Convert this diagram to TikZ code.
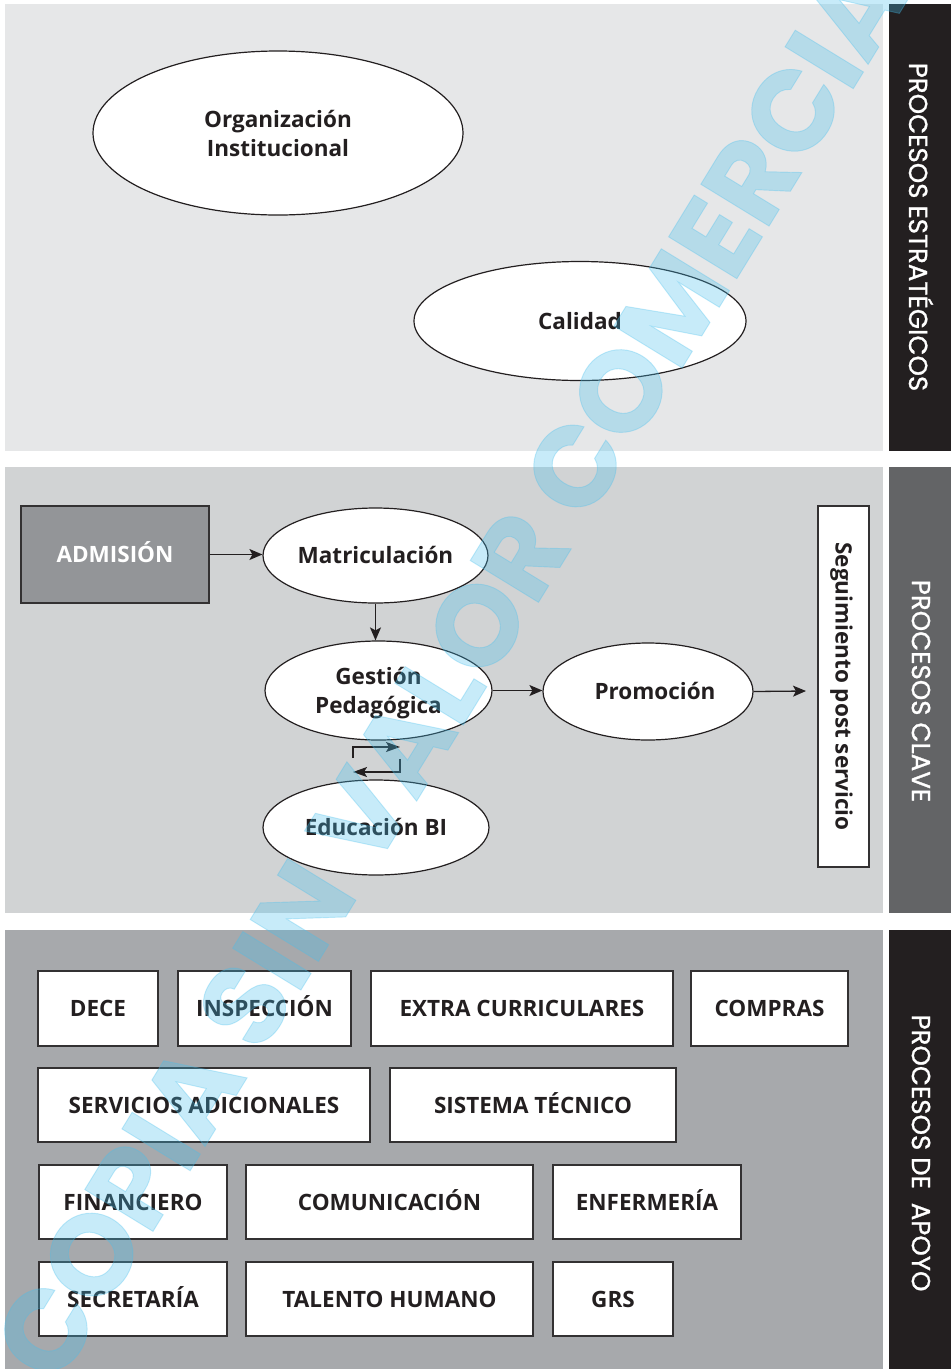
\documentclass[tikz,border=0pt]{standalone}
\usepackage{fontspec}
\setmainfont{Open Sans}
\newfontfamily\barfont{Poppins}[FakeBold=1]
\newfontfamily\markfont{Poppins}[FakeBold=0.8]
\usetikzlibrary{shapes.geometric,arrows.meta}

\definecolor{inkblack}{HTML}{231F20}
\definecolor{stratbg}{HTML}{E6E7E8}
\definecolor{keybg}{HTML}{D1D3D4}
\definecolor{supbg}{HTML}{A7A9AC}
\definecolor{keybar}{HTML}{636466}
\definecolor{admfill}{HTML}{939598}
\definecolor{boxline}{HTML}{333132}
\definecolor{wmcyan}{RGB}{70,192,238}

\begin{document}
\begin{tikzpicture}[x=1pt,y=-1pt,
  txt/.style={font=\fontsize{22.5}{29}\selectfont\bfseries, text=inkblack, align=center},
  oneline/.style={text height=16pt, text depth=0pt},
  oval/.style={txt, ellipse, draw=inkblack, line width=1.2pt, fill=white, inner sep=0pt},
  procbox/.style={txt, oneline, rectangle, draw=boxline, line width=1.4pt, fill=white, inner sep=0pt},
  barlabel/.style={font=\fontsize{26}{30}\barfont, text=white, rotate=-90},
  arr/.style={draw=inkblack, line width=1.3pt, -{Stealth[length=13pt,width=11pt,inset=3pt]}},
  loop/.style={draw=inkblack, line width=1.3pt, -{Stealth[length=14pt,width=10pt,inset=3pt]}},
  watermark/.style={font=\fontsize{114}{114}\markfont\bfseries, text=wmcyan, text opacity=0.3, inner sep=0pt}
]
\useasboundingbox (0,0) rectangle (951,1369);
\fill[white] (0,0) rectangle (951,1369);

% three bands with their side labels
\fill[stratbg] (5,4) rectangle (883,451);
\fill[inkblack] (889,4) rectangle (951,451);
\fill[keybg] (5,467) rectangle (883,913);
\fill[keybar] (889,467) rectangle (951,913);
\fill[supbg] (5,930) rectangle (883,1369);
\fill[inkblack] (889,930) rectangle (951,1369);

\node[barlabel] (lblstrat) at (921,227) {PROCESOS ESTRATÉGICOS};
\node[barlabel] (lblkey) at (921,691) {PROCESOS CLAVE};
\node[barlabel] (lblsup) at (921,1153) {PROCESOS DE\ \ APOYO};

% strategic processes
\node[oval, minimum width=370pt, minimum height=164pt] (org) at (278,133) {Organización\\Institucional};
\node[oval, oneline, minimum width=332pt, minimum height=119pt] (cal) at (580,321) {Calidad};

% key processes
\node[txt, oneline, rectangle, draw=boxline, line width=1.4pt, fill=admfill, text=white,
      minimum width=188pt, minimum height=97pt, inner sep=0pt] (adm) at (115,554.5) {ADMISIÓN};
\node[oval, oneline, minimum width=225pt, minimum height=95pt] (mat) at (375.5,555.5) {Matriculación};
\node[oval, minimum width=227pt, minimum height=99pt] (ges) at (378.5,690.5) {\rule{0pt}{23pt}Gestión\\Pedagógica};
\node[oval, oneline, minimum width=210pt, minimum height=97pt] (pro) at (648,691.5) {\hspace*{14pt}Promoción};
\node[oval, oneline, minimum width=226pt, minimum height=95pt] (edu) at (376,827.5) {Educación BI};
\node[procbox, rotate=-90, minimum width=361pt, minimum height=51pt] (seg) at (843.5,686.5) {Seguimiento post servicio};

\coordinate (segin) at (806,691);
\draw[arr] (adm.east) -- (adm.east -| mat.west);
\draw[arr] (mat.south) -- (mat.south |- ges.north);
\draw[arr] (ges.east) -- (ges.east -| pro.west);
\draw[arr] (pro.east) -- (segin);

% exchange between Gestión Pedagógica and Educación BI
\coordinate (upA) at (353,758);
\coordinate (upB) at (400,747);
\coordinate (dnA) at (400,759);
\coordinate (dnB) at (353,772);
\draw[loop] (upA) |- (upB);
\draw[loop] (dnA) |- (dnB);

% support processes
\node[procbox, minimum width=120pt, minimum height=75pt] (dece) at (98,1008.5) {DECE};
\node[procbox, minimum width=173pt, minimum height=75pt] (insp) at (264.5,1008.5) {INSPECCIÓN};
\node[procbox, minimum width=302pt, minimum height=75pt] (extra) at (522,1008.5) {EXTRA CURRICULARES};
\node[procbox, minimum width=157pt, minimum height=75pt] (comp) at (769.5,1008.5) {COMPRAS};
\node[procbox, minimum width=332pt, minimum height=74pt] (serv) at (204,1105) {SERVICIOS ADICIONALES};
\node[procbox, minimum width=286pt, minimum height=74pt] (sist) at (533,1105) {SISTEMA TÉCNICO};
\node[procbox, minimum width=188pt, minimum height=74pt] (fin) at (133,1202) {FINANCIERO};
\node[procbox, minimum width=287pt, minimum height=74pt] (com) at (389.5,1202) {COMUNICACIÓN};
\node[procbox, minimum width=188pt, minimum height=74pt] (enf) at (647,1202) {ENFERMERÍA};
\node[procbox, minimum width=188pt, minimum height=74pt] (sec) at (133,1299) {SECRETARÍA};
\node[procbox, minimum width=287pt, minimum height=74pt] (tal) at (389.5,1299) {TALENTO HUMANO};
\node[procbox, minimum width=120pt, minimum height=74pt] (grs) at (613,1299) {GRS};

% diagonal stamp across the sheet
\node[watermark, anchor=base west, rotate=58.5] (stamp) at (57,1388) {COPIA SIN VALOR COMERCIAL};
\end{tikzpicture}
\end{document}
